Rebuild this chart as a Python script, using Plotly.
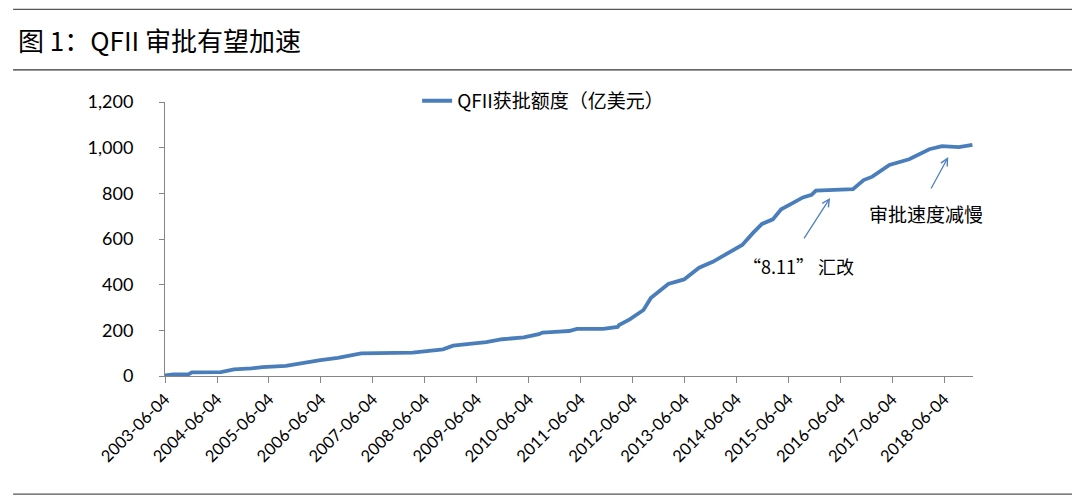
import plotly.graph_objects as go

dates = [
    "2003-06-04", "2003-08-01", "2003-11-15", "2003-12-10", "2004-07-01", "2004-10-01",
    "2005-02-01", "2005-04-20", "2005-10-01", "2005-12-15", "2006-03-15", "2006-06-01",
    "2006-10-01", "2007-01-10", "2007-03-15", "2008-03-10", "2008-06-15", "2008-10-10",
    "2008-12-20", "2009-04-01", "2009-08-10", "2009-12-01", "2010-05-01", "2010-08-15",
    "2010-09-10", "2011-01-05", "2011-03-15", "2011-05-10", "2011-11-10", "2012-02-20",
    "2012-03-01", "2012-05-15", "2012-08-20", "2012-10-10", "2012-11-20", "2013-02-10",
    "2013-06-01", "2013-09-15", "2013-12-20", "2014-04-01", "2014-07-15", "2014-10-01",
    "2014-12-01", "2015-02-15", "2015-04-15", "2015-07-01", "2015-09-15", "2015-11-15",
    "2015-12-15", "2016-09-01", "2016-11-15", "2017-01-15", "2017-05-15", "2017-10-01",
    "2017-12-10", "2018-02-20", "2018-05-20", "2018-09-15", "2018-12-20",
]
quota = [
    2, 7, 7, 16, 17, 29,
    33, 39, 44, 53, 60, 70,
    79, 89, 99, 102, 109, 117,
    133, 140, 148, 161, 169, 183,
    190, 194, 197, 206, 206, 215,
    223, 248, 289, 341, 360, 403,
    423, 474, 500, 537, 574, 628,
    666, 686, 730, 756, 782, 793,
    812, 818, 858, 873, 924, 949,
    971, 993, 1007, 1002, 1012,
]
tick_dates = [f"{y}-06-04" for y in range(2003, 2019)]
tick_labels = tick_dates
y_ticks = [0, 200, 400, 600, 800, 1000, 1200]
y_labels = ["0", "200", "400", "600", "800", "1,000", "1,200"]

series_name = "QFII获批额度（亿美元）"
title_text = "图 1：QFII 审批有望加速"
note1 = "“8.11” 汇改"
note2 = "审批速度减慢"

FONT = "Lato, 'Noto Sans CJK SC', sans-serif"
CJK = "'Noto Sans CJK SC', sans-serif"
line_color = "#4A7EBB"
arrow_color = "#4F81BD"

# the page has an 8px body margin; figure occupies page pixels (8,8)-(1080,502)
W, H = 1072, 494

fig = go.Figure()
fig.add_trace(go.Scatter(
    x=dates, y=quota, mode="lines", name=series_name,
    line=dict(color=line_color, width=3.8),
))

fig.update_layout(
    width=W, height=H,
    margin=dict(l=157, r=107, t=94, b=126),
    paper_bgcolor="white", plot_bgcolor="white",
    font=dict(family=FONT, size=18, color="#000000"),
    showlegend=True,
    legend=dict(
        orientation="h", x=0.468, y=1.004, xanchor="center", yanchor="middle",
        font=dict(family=CJK, size=19, color="#000000"),
        bgcolor="rgba(0,0,0,0)",
    ),
    title=dict(
        text=title_text, xref="container", yref="container",
        x=10 / W, xanchor="left", y=1 - 34 / H, yanchor="middle",
        font=dict(family=CJK, size=26, color="#000000"),
    ),
)

fig.update_xaxes(
    type="date", range=["2003-06-04", "2018-12-24"],
    tickvals=tick_dates, ticktext=tick_labels, tickangle=-45,
    showgrid=False, zeroline=False,
    showline=True, linecolor="#868686", linewidth=1,
    ticks="outside", ticklen=6, tickcolor="#868686",
    tickfont=dict(family=FONT, size=16.5, color="#000000"),
)
fig.update_yaxes(
    range=[0, 1200], tickvals=y_ticks, ticktext=y_labels,
    showgrid=False, zeroline=False,
    showline=True, linecolor="#868686", linewidth=1,
    ticks="outside", ticklen=5, tickcolor="#868686",
    tickfont=dict(family=FONT, size=18, color="#000000"),
    ticklabelstandoff=22,
)

# horizontal rules (decoration)
for yp, col in [(1.338, "#555555"), (1.117, "#333333"), (-0.431, "#555555")]:
    fig.add_shape(type="line", xref="paper", yref="paper",
                  x0=-0.188, x1=1.126, y0=yp, y1=yp,
                  line=dict(color=col, width=1.3))

# annotations
fig.add_annotation(x="2016-03-24", y=780, xref="x", yref="y", text="",
                   showarrow=True, arrowhead=5, arrowsize=1.1, arrowwidth=1.3,
                   arrowcolor=arrow_color, ax=-27, ay=42)
fig.add_annotation(x="2018-07-03", y=959, xref="x", yref="y", text="",
                   showarrow=True, arrowhead=5, arrowsize=1.1, arrowwidth=1.3,
                   arrowcolor=arrow_color, ax=-18, ay=33)
fig.add_annotation(x="2015-08-12", y=482, xref="x", yref="y", text=note1,
                   showarrow=False, font=dict(family=CJK, size=18, color="#000000"))
fig.add_annotation(x="2018-01-27", y=710, xref="x", yref="y", text=note2,
                   showarrow=False, font=dict(family=CJK, size=19, color="#000000"))

fig.write_html("out.html")
